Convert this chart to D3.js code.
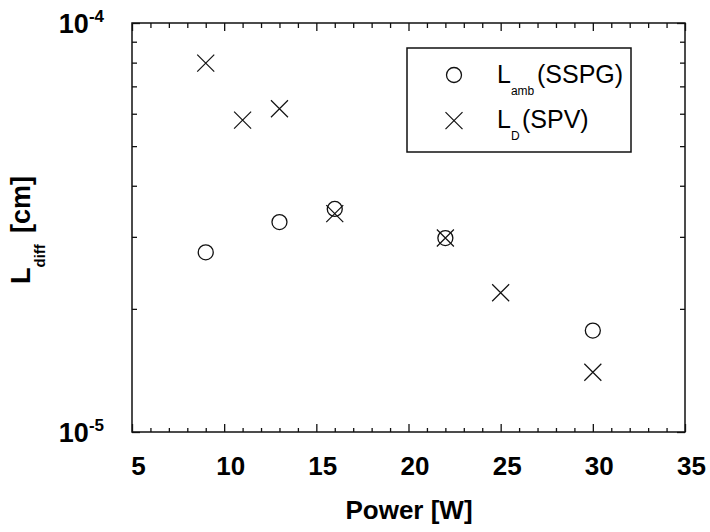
<!DOCTYPE html>
<html>
<head>
<meta charset="utf-8">
<script src="https://cdn.jsdelivr.net/npm/d3@7"></script>
<style>
  html, body { margin: 0; padding: 0; background: #fff; }
  svg { display: block; }
  text { font-family: "Liberation Sans", Arial, sans-serif; fill: #000; }
</style>
</head>
<body>
<svg id="chart" width="710" height="532"></svg>
<script>
// ---- data ----
const powerAmb = [9, 13, 16, 22, 30];
const lAmb = [2.75e-5, 3.26e-5, 3.51e-5, 2.98e-5, 1.77e-5];
const powerD = [9, 11, 13, 16, 22, 25, 30];
const lD = [7.98e-5, 5.79e-5, 6.17e-5, 3.42e-5, 2.98e-5, 2.19e-5, 1.40e-5];
const xMajorTicks = [5, 10, 15, 20, 25, 30, 35];
const yDecades = [1e-5, 1e-4];
const yDecadeExponents = ["-5", "-4"];
const legendLabels = [["L", "amb", "(SSPG)"], ["L", "D", "(SPV)"]];

// ---- layout ----
const svg = d3.select("#chart");
const L = 132, R = 685, T = 23, B = 432;
const x = d3.scaleLinear().domain([5, 35]).range([L, R]);
const y = d3.scaleLog().domain([1e-5, 1e-4]).range([B, T]);

const xMinor = d3.range(5, 36, 1).filter(v => v % 5 !== 0);
const yMinor = d3.range(2, 10).map(v => v * 1e-5);

function styleAxis(g) {
  g.select(".domain").remove();
  g.selectAll(".tick line").attr("stroke", "#111").attr("stroke-width", 1.3);
  g.selectAll(".tick text").remove();
}

// bottom
svg.append("g").attr("transform", `translate(0,${B})`)
  .call(d3.axisBottom(x).tickValues(xMajorTicks).tickSize(-8).tickFormat("")).call(styleAxis);
svg.append("g").attr("transform", `translate(0,${B})`)
  .call(d3.axisBottom(x).tickValues(xMinor).tickSize(-4).tickFormat("")).call(styleAxis);
// top
svg.append("g").attr("transform", `translate(0,${T})`)
  .call(d3.axisTop(x).tickValues(xMajorTicks).tickSize(-8).tickFormat("")).call(styleAxis);
svg.append("g").attr("transform", `translate(0,${T})`)
  .call(d3.axisTop(x).tickValues(xMinor).tickSize(-5).tickFormat("")).call(styleAxis);
// left
svg.append("g").attr("transform", `translate(${L},0)`)
  .call(d3.axisLeft(y).tickValues(yMinor).tickSize(-5).tickFormat("")).call(styleAxis);
svg.append("g").attr("transform", `translate(${L},0)`)
  .call(d3.axisLeft(y).tickValues(yDecades).tickSize(-8).tickFormat("")).call(styleAxis);
// right
svg.append("g").attr("transform", `translate(${R},0)`)
  .call(d3.axisRight(y).tickValues(yMinor).tickSize(-5).tickFormat("")).call(styleAxis);
svg.append("g").attr("transform", `translate(${R},0)`)
  .call(d3.axisRight(y).tickValues(yDecades).tickSize(-8).tickFormat("")).call(styleAxis);

// frame
svg.append("rect").attr("x", L).attr("y", T).attr("width", R - L).attr("height", B - T)
  .attr("fill", "none").attr("stroke", "#111").attr("stroke-width", 1.5);

// x tick labels
svg.append("g").selectAll("text").data(xMajorTicks).join("text")
  .attr("x", d => x(d) + 6.5).attr("y", B + 43)
  .attr("text-anchor", "middle").attr("font-size", 26).attr("font-weight", "bold")
  .text(d => d);

// y tick labels with superscripts
const yl = svg.append("g").selectAll("text").data(yDecades).join("text")
  .attr("x", 104).attr("y", d => y(d) + 10)
  .attr("text-anchor", "end").attr("font-weight", "bold");
yl.append("tspan").attr("font-size", 27).text("10");
yl.append("tspan").attr("font-size", 17).attr("dy", -11).text((d, i) => yDecadeExponents[i]);

// axis titles
svg.append("text").attr("x", 409).attr("y", 519).attr("text-anchor", "middle")
  .attr("font-size", 26).attr("font-weight", "bold").text("Power [W]");

const yt = svg.append("text").attr("transform", "translate(30,284) rotate(-90)")
  .attr("font-weight", "bold");
yt.append("tspan").attr("font-size", 27).text("L");
yt.append("tspan").attr("font-size", 15).attr("dy", 15).text("diff");
yt.append("tspan").attr("font-size", 27).attr("dy", -15).attr("x", 51).text("[cm]");

// markers
const circleR = 7.5, crossH = 8.5;
function crossPath(cx, cy) {
  return `M${cx - crossH},${cy - crossH}L${cx + crossH},${cy + crossH}M${cx - crossH},${cy + crossH}L${cx + crossH},${cy - crossH}`;
}
svg.append("g").selectAll("circle").data(powerAmb).join("circle")
  .attr("cx", d => x(d)).attr("cy", (d, i) => y(lAmb[i])).attr("r", circleR)
  .attr("fill", "none").attr("stroke", "#111").attr("stroke-width", 1.3);
svg.append("g").selectAll("path").data(powerD).join("path")
  .attr("d", (d, i) => crossPath(x(d), y(lD[i])))
  .attr("fill", "none").attr("stroke", "#111").attr("stroke-width", 1.2);

// legend
const lg = svg.append("g");
lg.append("rect").attr("x", 407).attr("y", 48).attr("width", 224).attr("height", 104)
  .attr("fill", "#fff").attr("stroke", "#111").attr("stroke-width", 1.5);
lg.append("circle").attr("cx", 454).attr("cy", 75).attr("r", circleR)
  .attr("fill", "none").attr("stroke", "#111").attr("stroke-width", 1.3);
lg.append("path").attr("d", crossPath(454, 120.7))
  .attr("fill", "none").attr("stroke", "#111").attr("stroke-width", 1.2);
const lgText = lg.selectAll("text.lab").data(legendLabels).join("text").attr("class", "lab")
  .attr("x", 497).attr("y", (d, i) => i === 0 ? 83 : 128);
lgText.append("tspan").attr("font-size", 25).text(d => d[0]);
lgText.append("tspan").attr("font-size", 12).attr("dy", 12).text(d => d[1]);
lgText.append("tspan").attr("font-size", 25).attr("dy", -12)
  .attr("x", (d, i) => i === 0 ? 537 : 522).text(d => d[2]);
</script>
</body>
</html>
